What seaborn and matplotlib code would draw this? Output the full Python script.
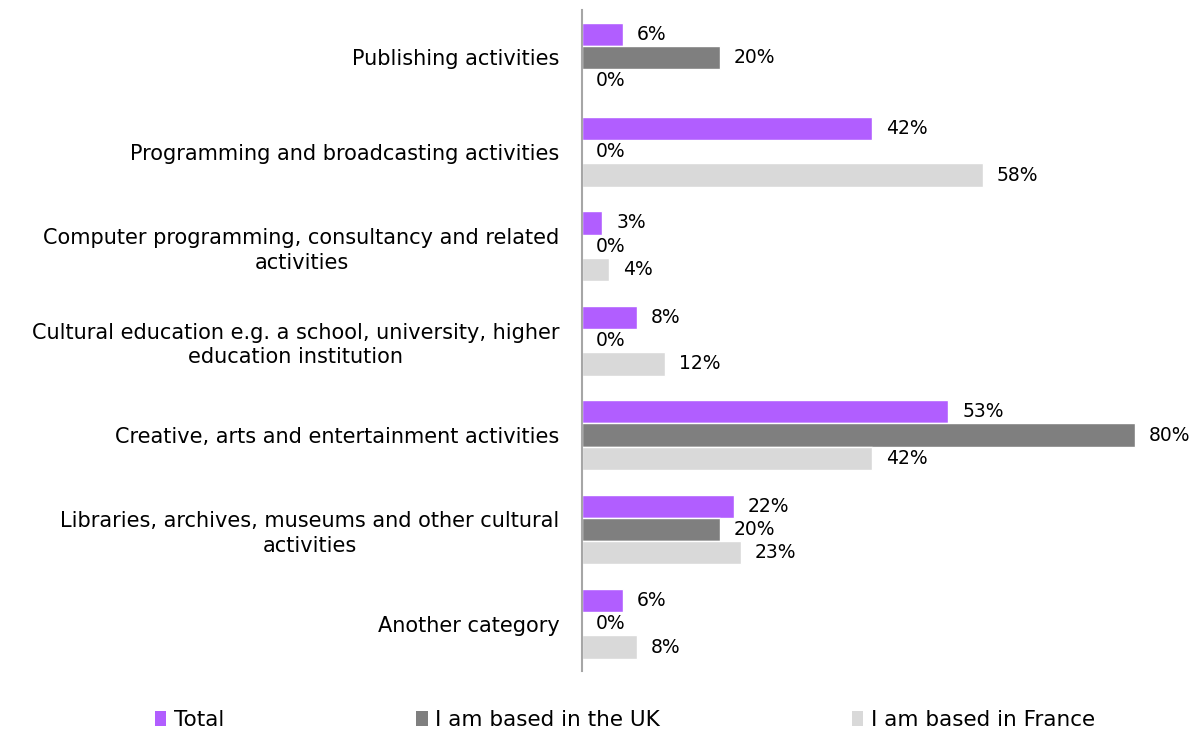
import matplotlib
matplotlib.use("Agg")
import matplotlib.pyplot as plt
from matplotlib.patches import Patch
import pandas as pd
import seaborn as sns

categories = [
    "Publishing activities",
    "Programming and broadcasting activities",
    "Computer programming, consultancy and related\nactivities",
    "Cultural education e.g. a school, university, higher\neducation institution",
    "Creative, arts and entertainment activities",
    "Libraries, archives, museums and other cultural\nactivities",
    "Another category",
]
series_names = ["Total", "I am based in the UK", "I am based in France"]
total = [6, 42, 3, 8, 53, 22, 6]
uk = [20, 0, 0, 0, 80, 20, 0]
france = [0, 58, 4, 12, 42, 23, 8]
colors = ["#B15EFF", "#7F7F7F", "#D9D9D9"]

rows = []
for name, vals in zip(series_names, [total, uk, france]):
    for cat, v in zip(categories, vals):
        rows.append({"category": cat, "series": name, "value": v})
df = pd.DataFrame(rows)

sns.set_theme(style="white")
plt.rcParams["font.family"] = ["DejaVu Sans"]
CAT_FS = 15
VAL_FS = 13.5
LEG_FS = 15.5

fig = plt.figure(figsize=(11.97, 7.31), dpi=100)
ax = fig.add_axes([0.486, 0.082, 0.491, 0.904])

sns.barplot(
    data=df, y="category", x="value", hue="series",
    order=categories, hue_order=series_names,
    palette=colors, width=0.74, orient="h",
    legend=False, ax=ax, saturation=1, errorbar=None,
)

for cont in ax.containers:
    ax.bar_label(cont, labels=[f"{b.get_width():.0f}%" for b in cont],
                 padding=10, fontsize=VAL_FS, color="black")

ax.set_xlim(0, 85)
ax.set_ylim(len(categories) - 0.5, -0.5)
ax.set_xlabel("")
ax.set_ylabel("")
ax.set_xticks([])
ax.tick_params(axis="y", length=0, pad=16, labelsize=CAT_FS)
for lab in ax.get_yticklabels():
    lab.set_multialignment("center")
    lab.set_color("black")
    lab.set_linespacing(1.3)

for side in ["top", "right", "bottom"]:
    ax.spines[side].set_visible(False)
ax.spines["left"].set_color("#A6A6A6")
ax.spines["left"].set_linewidth(1.5)

handles = [Patch(facecolor=c, edgecolor="none") for c in colors]
fig.legend(handles, series_names, loc="center", bbox_to_anchor=(0.522, 0.015),
           ncol=3, frameon=False, fontsize=LEG_FS, handlelength=0.55, handleheight=0.75,
           handletextpad=0.35, columnspacing=8.9, labelcolor="black")

fig.savefig("out.png", dpi=100, facecolor="white")
